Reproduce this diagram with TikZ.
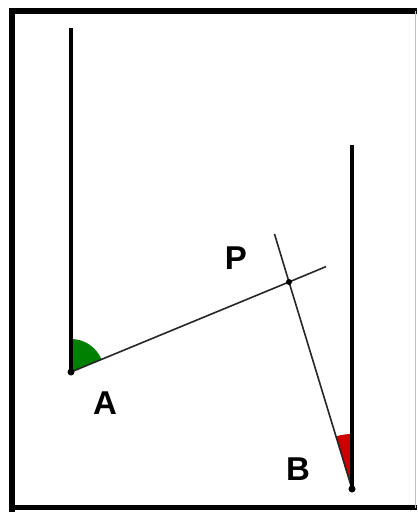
\documentclass[tikz,border=0pt]{standalone}
\usepackage{fontspec}
\setmainfont{Liberation Sans}
\begin{document}
\begin{tikzpicture}[x=1pt,y=-1pt,
  pole/.style={line width=3.5pt,black},
  ray/.style={line width=1.6pt,black!85},
  lbl/.style={font=\bfseries\fontsize{33}{36}\selectfont,inner sep=0pt,anchor=center},
  dot/.style={circle,fill=black,inner sep=0pt,minimum size=7pt}]
\useasboundingbox (0,0) rectangle (417,513);
\fill[white] (0,0) rectangle (417,513);
% frame
\draw[line width=6pt] (11.5,512) -- (11.5,11.5) -- (417,11.5);
\draw[line width=5pt] (8.5,507.5) -- (417,507.5);
\draw[line width=1pt,black!25] (415,11.5) -- (415,507.5);
% points
\coordinate (A) at (71,372);
\coordinate (B) at (352,489);
\coordinate (P) at (289,282);
\coordinate (Atop) at (71,28);
\coordinate (Btop) at (352,145);
\coordinate (Pa) at (326,266.6);
\coordinate (Pb) at (274.5,234);
% angle sectors (canvas angles)
\fill[green!50!black] (A) -- ++(22.5:33pt) arc[start angle=22.5, end angle=90, radius=33pt] -- cycle;
\fill[red!80!black] (B) -- ++(90:55pt) arc[start angle=90, end angle=106.8, radius=55pt] -- cycle;
% lines
\draw[ray] (A) -- (P) -- (Pa);
\draw[ray] (B) -- (P) -- (Pb);
\draw[pole] (A) -- (Atop);
\draw[pole] (B) -- (Btop);
\node[dot] (a) at (A) {};
\node[dot] (b) at (B) {};
\node[dot,minimum size=6pt] (p) at (P) {};
% labels
\node[lbl] (la) at (105,403) {A};
\node[lbl] (lp) at (236,258) {P};
\node[lbl] (lb) at (298,469) {B};
\end{tikzpicture}
\end{document}
